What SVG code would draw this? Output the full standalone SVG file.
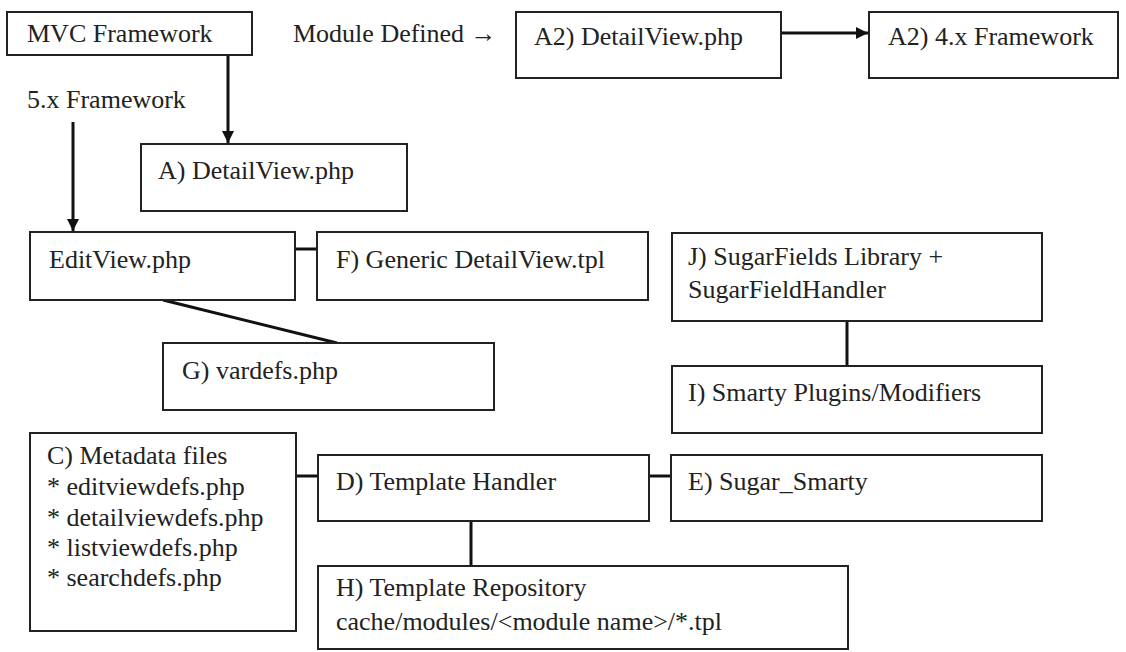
<svg xmlns="http://www.w3.org/2000/svg" width="1126" height="652" viewBox="0 0 1126 652">
<style>
.box{fill:#fff;stroke:#222;stroke-width:2}
.c{stroke:#111;stroke-width:3;fill:none}
</style>
<defs>
<marker id="ah" viewBox="0 0 10 10" refX="10" refY="5" markerWidth="4" markerHeight="4" orient="auto" markerUnits="strokeWidth">
<path d="M0,0 L10,5 L0,10 z" fill="#111"/>
</marker>
</defs>
<rect width="1126" height="652" fill="#fff"/>
<g id="connectors">
<line class="c" x1="228" y1="55" x2="228" y2="143" marker-end="url(#ah)"/>
<line class="c" x1="73" y1="122" x2="73" y2="231" marker-end="url(#ah)"/>
<line class="c" x1="781" y1="33" x2="868" y2="33" marker-end="url(#ah)"/>
<line class="c" x1="295" y1="249" x2="317" y2="249"/>
<line class="c" x1="163" y1="300" x2="337" y2="343"/>
<line class="c" x1="847" y1="321" x2="847" y2="366"/>
<line class="c" x1="296" y1="476" x2="318" y2="476"/>
<line class="c" x1="649" y1="476" x2="671" y2="476"/>
<line class="c" x1="471" y1="521" x2="471" y2="566"/>
</g>
<g font-family="Liberation Serif, DejaVu Serif, serif" font-size="26" fill="#222">
<g id="label-module-defined"><text x="293" y="42">Module Defined →</text></g>
<g id="label-5x"><text x="27" y="108">5.x Framework</text></g>
<g id="mvc"><rect class="box" x="7" y="12" width="245" height="43"/><text x="27" y="42">MVC Framework</text></g>
<g id="a2-detailview"><rect class="box" x="516" y="12" width="265" height="66"/><text x="534" y="45">A2) DetailView.php</text></g>
<g id="a2-4x"><rect class="box" x="869" y="12" width="249" height="66"/><text x="888" y="45">A2) 4.x Framework</text></g>
<g id="a-detailview"><rect class="box" x="141" y="144" width="266" height="67"/><text x="158" y="179">A) DetailView.php</text></g>
<g id="editview"><rect class="box" x="30" y="232" width="265" height="68"/><text x="49" y="268">EditView.php</text></g>
<g id="f-generic"><rect class="box" x="317" y="232" width="331" height="68"/><text x="336" y="268">F) Generic DetailView.tpl</text></g>
<g id="j-sugarfields"><rect class="box" x="672" y="233" width="370" height="88"/><text x="688" y="265">J) SugarFields Library +</text><text x="688" y="298">SugarFieldHandler</text></g>
<g id="g-vardefs"><rect class="box" x="163" y="343" width="331" height="67"/><text x="182" y="379">G) vardefs.php</text></g>
<g id="i-smarty"><rect class="box" x="672" y="366" width="370" height="67"/><text x="688" y="401">I) Smarty Plugins/Modifiers</text></g>
<g id="c-metadata"><rect class="box" x="30" y="433" width="266" height="198"/>
<text x="47" y="464">C) Metadata files</text>
<text x="47" y="495">* editviewdefs.php</text>
<text x="47" y="526">* detailviewdefs.php</text>
<text x="47" y="556">* listviewdefs.php</text>
<text x="47" y="586">* searchdefs.php</text></g>
<g id="d-template-handler"><rect class="box" x="318" y="455" width="331" height="66"/><text x="336" y="490">D) Template Handler</text></g>
<g id="e-sugar-smarty"><rect class="box" x="671" y="455" width="371" height="66"/><text x="688" y="490">E) Sugar_Smarty</text></g>
<g id="h-template-repo"><rect class="box" x="318" y="566" width="530" height="83"/><text x="336" y="596">H) Template Repository</text><text x="336" y="630">cache/modules/&lt;module name&gt;/*.tpl</text></g>
</g>
</svg>
